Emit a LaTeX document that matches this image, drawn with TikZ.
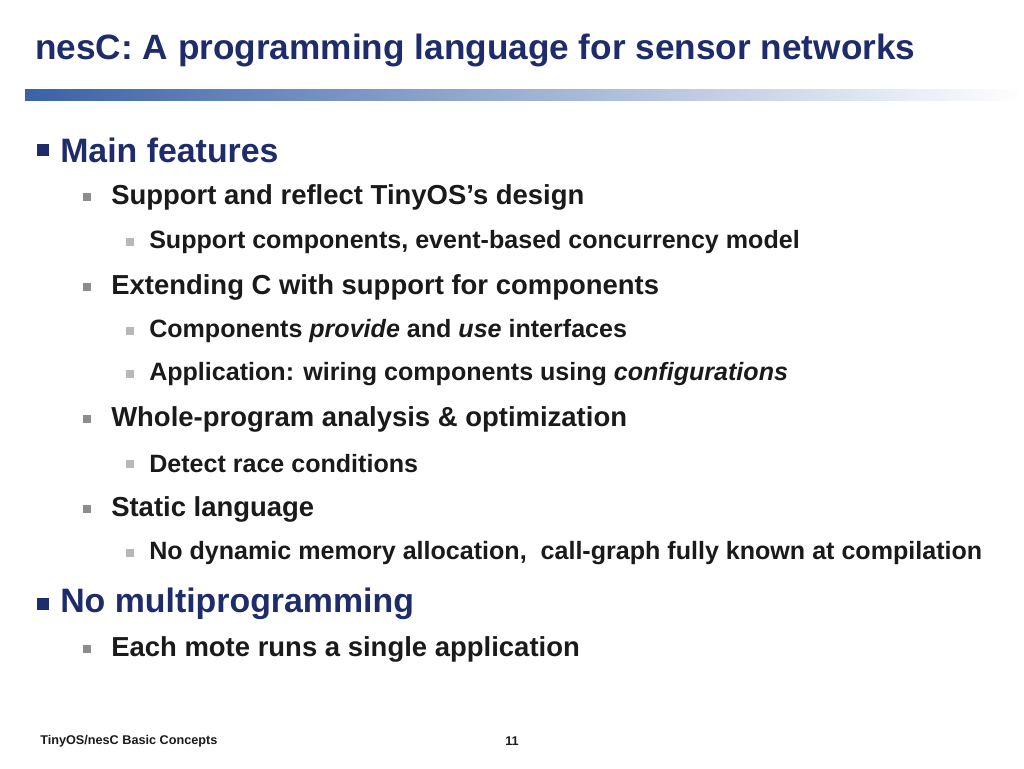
\documentclass[tikz,border=0pt]{standalone}
\usepackage{fontspec}
\setmainfont{Liberation Sans}
\definecolor{navy}{HTML}{1F2C6B}
\definecolor{barblue}{HTML}{3A62A7}
\definecolor{txt}{HTML}{1A1A1A}
\definecolor{bulA}{HTML}{1F2C6B}
\definecolor{bulB}{HTML}{8C8C8C}
\definecolor{bulC}{HTML}{B8B8B8}
\begin{document}
\begin{tikzpicture}[
   x=0.75pt, y=-0.75pt,
   every node/.append style={anchor=west, inner sep=0pt},
   lvlA/.style={font=\fontsize{25.4}{29}\selectfont\bfseries, text=navy},
   lvlB/.style={font=\fontsize{20.6}{24}\selectfont\bfseries, text=txt},
   lvlC/.style={font=\fontsize{18.8}{22}\selectfont\bfseries, text=txt},
   bulletbox/.style={anchor=center, minimum size=#1, fill},
]
\useasboundingbox (0,0) rectangle (1024,768);
% title and bar
\node[font=\fontsize{26.4}{30}\selectfont\bfseries, text=navy] (title) at (35,50)
   {nesC: A programming language for sensor networks};
\shade[left color=barblue, right color=white] (25,89) rectangle (1024,100);
% level 1
\foreach \y/\name/\t in {150/mainf/Main features, 604/nomulti/No multiprogramming}{
   \node[bulletbox=9pt, fill=bulA] at (43,\y) {};
   \node[lvlA] (\name) at (60,\y) {\t};
}
% level 2
\foreach \y/\name/\t in {197/reflect/Support and reflect TinyOS’s design,
                         287/extend/Extending C with support for components,
                         419/whole/Whole-program analysis \& optimization,
                         509/static/Static language,
                         649/mote/Each mote runs a single application}{
   \node[bulletbox=6.5pt, fill=bulB] at (87,\y) {};
   \node[lvlB] (\name) at (111,\y) {\t};
}
% level 3
\foreach \y/\name/\t in {242/comps/{Support components, event-based concurrency model},
                         331/provide/Components \textit{provide} and \textit{use} interfaces,
                         374/wiring/Application: wiring components using \textit{configurations},
                         464/race/Detect race conditions,
                         553/nodyn/{No dynamic memory allocation,\ \ call-graph fully known at compilation}}{
   \node[bulletbox=6pt, fill=bulC] at (130,\y) {};
   \node[lvlC] (\name) at (149,\y) {\t};
}
% footer
\node[font=\fontsize{9.5}{11}\selectfont\bfseries, text=txt] (foot) at (40,741) {TinyOS/nesC Basic Concepts};
\node[font=\fontsize{9.5}{11}\selectfont\bfseries, text=txt, anchor=center] (page) at (512,741) {11};
\end{tikzpicture}
\end{document}
